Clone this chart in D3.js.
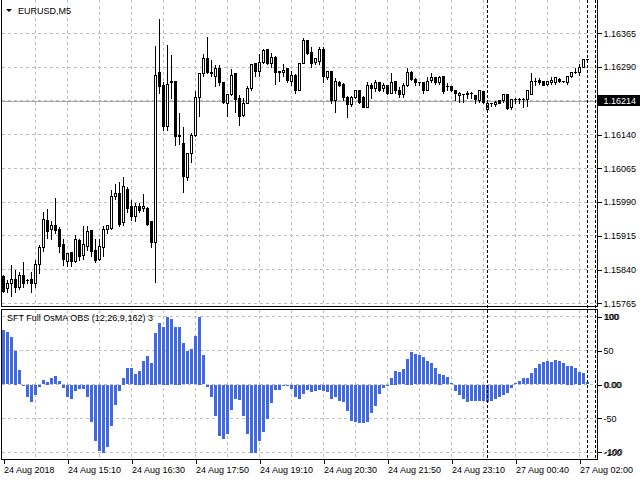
<!DOCTYPE html>
<html>
<head>
<meta charset="utf-8">
<script src="https://cdn.jsdelivr.net/npm/d3@7"></script>
<style>
body{margin:0;background:#fff;}
svg{display:block;}
text{font-family:"Liberation Sans",Arial,sans-serif;font-size:9px;fill:#000;}
</style>
</head>
<body>
<svg id="chart" width="640" height="480"></svg>
<script>
// EURUSD M5 bars
var open = [
1.15824,1.15797,1.15808,1.15817,1.15801,1.15826,1.15815,1.15817,1.15810,1.15852,
1.15890,1.15948,1.15928,1.15939,1.15930,1.15895,1.15859,1.15877,1.15859,1.15904,
1.15872,1.15892,1.15926,1.15883,1.15863,1.15890,1.15928,1.15932,1.16003,1.16010,
1.15944,1.16019,1.15979,1.15959,1.15979,1.15975,1.15975,1.15946,1.15901,1.16277,
1.16250,1.16159,1.16255,1.16259,1.16139,1.16121,1.16044,1.16099,1.16139,1.16223,
1.16275,1.16308,1.16279,1.16268,1.16286,1.16255,1.16210,1.16228,1.16275,1.16221,
1.16183,1.16210,1.16243,1.16297,1.16281,1.16301,1.16328,1.16297,1.16312,1.16281,
1.16277,1.16286,1.16259,1.16272,1.16239,1.16299,1.16350,1.16323,1.16301,1.16303,
1.16330,1.16266,1.16281,1.16215,1.16255,1.16252,1.16223,1.16206,1.16223,1.16237,
1.16223,1.16201,1.16248,1.16243,1.16255,1.16243,1.16250,1.16232,1.16259,1.16239,
1.16228,1.16248,1.16279,1.16263,1.16255,1.16255,1.16239,1.16261,1.16266,1.16255,
1.16268,1.16246,1.16246,1.16239,1.16226,1.16228,1.16228,1.16232,1.16226,1.16215,
1.16235,1.16195,1.16208,1.16206,1.16215,1.16215,1.16228,1.16201,1.16217,1.16219,
1.16217,1.16217,1.16230,1.16259,1.16261,1.16257,1.16252,1.16255,1.16255,1.16263,
1.16257,1.16255,1.16268,1.16279,1.16277,1.16290,1.16306];
var high = [
1.15828,1.15817,1.15852,1.15841,1.15835,1.15857,1.15821,1.15835,1.15863,1.15895,
1.15970,1.15975,1.15950,1.15999,1.15935,1.15910,1.15879,1.15879,1.15917,1.15910,
1.15939,1.15939,1.15928,1.15908,1.15910,1.15937,1.15939,1.16017,1.16032,1.16035,
1.16046,1.16024,1.15995,1.15990,1.15990,1.16010,1.15979,1.15948,1.16339,1.16397,
1.16257,1.16341,1.16317,1.16261,1.16190,1.16159,1.16101,1.16144,1.16239,1.16279,
1.16321,1.16357,1.16306,1.16295,1.16295,1.16257,1.16228,1.16286,1.16279,1.16228,
1.16223,1.16250,1.16299,1.16301,1.16321,1.16332,1.16332,1.16323,1.16315,1.16283,
1.16299,1.16288,1.16283,1.16275,1.16301,1.16355,1.16352,1.16335,1.16310,1.16335,
1.16335,1.16283,1.16283,1.16266,1.16261,1.16255,1.16226,1.16226,1.16239,1.16239,
1.16226,1.16257,1.16255,1.16263,1.16257,1.16255,1.16252,1.16279,1.16261,1.16246,
1.16255,1.16288,1.16283,1.16266,1.16259,1.16257,1.16268,1.16277,1.16268,1.16272,
1.16270,1.16255,1.16248,1.16241,1.16235,1.16232,1.16237,1.16235,1.16228,1.16239,
1.16237,1.16212,1.16212,1.16215,1.16217,1.16230,1.16230,1.16219,1.16223,1.16223,
1.16223,1.16241,1.16277,1.16266,1.16266,1.16259,1.16261,1.16268,1.16268,1.16266,
1.16261,1.16270,1.16281,1.16290,1.16299,1.16308,1.16308];
var low = [
1.15788,1.15790,1.15781,1.15788,1.15795,1.15801,1.15808,1.15788,1.15801,1.15832,
1.15881,1.15910,1.15906,1.15921,1.15879,1.15850,1.15846,1.15846,1.15855,1.15861,
1.15863,1.15883,1.15868,1.15855,1.15861,1.15870,1.15921,1.15928,1.15995,1.15935,
1.15939,1.15966,1.15950,1.15946,1.15966,1.15970,1.15937,1.15890,1.15812,1.16232,
1.16150,1.16150,1.16221,1.16115,1.16117,1.16012,1.16039,1.16079,1.16135,1.16181,
1.16268,1.16275,1.16268,1.16246,1.16250,1.16210,1.16181,1.16226,1.16188,1.16161,
1.16181,1.16210,1.16239,1.16268,1.16268,1.16299,1.16295,1.16288,1.16252,1.16257,
1.16268,1.16255,1.16250,1.16232,1.16237,1.16297,1.16317,1.16290,1.16295,1.16295,
1.16255,1.16263,1.16210,1.16188,1.16246,1.16215,1.16177,1.16203,1.16221,1.16210,
1.16199,1.16201,1.16221,1.16235,1.16235,1.16235,1.16228,1.16232,1.16232,1.16223,
1.16223,1.16246,1.16261,1.16250,1.16250,1.16232,1.16237,1.16255,1.16252,1.16252,
1.16232,1.16239,1.16235,1.16215,1.16212,1.16212,1.16221,1.16221,1.16210,1.16212,
1.16210,1.16188,1.16203,1.16203,1.16208,1.16212,1.16195,1.16195,1.16208,1.16210,
1.16201,1.16203,1.16228,1.16250,1.16252,1.16248,1.16250,1.16252,1.16252,1.16255,
1.16255,1.16252,1.16266,1.16275,1.16272,1.16290,1.16303];
var close = [
1.15792,1.15808,1.15819,1.15801,1.15826,1.15810,1.15815,1.15810,1.15852,1.15890,
1.15952,1.15924,1.15939,1.15926,1.15892,1.15863,1.15875,1.15857,1.15906,1.15870,
1.15895,1.15924,1.15881,1.15861,1.15892,1.15928,1.15937,1.16003,1.16010,1.15941,
1.16024,1.15975,1.15959,1.15981,1.15972,1.15979,1.15941,1.15901,1.16272,1.16246,
1.16157,1.16252,1.16259,1.16135,1.16135,1.16046,1.16097,1.16139,1.16223,1.16275,
1.16310,1.16277,1.16275,1.16286,1.16255,1.16212,1.16228,1.16272,1.16219,1.16181,
1.16210,1.16243,1.16295,1.16281,1.16301,1.16326,1.16299,1.16312,1.16277,1.16279,
1.16283,1.16261,1.16272,1.16237,1.16299,1.16348,1.16321,1.16299,1.16308,1.16330,
1.16268,1.16281,1.16215,1.16259,1.16250,1.16223,1.16206,1.16223,1.16237,1.16212,
1.16201,1.16248,1.16243,1.16255,1.16239,1.16250,1.16232,1.16255,1.16237,1.16228,
1.16250,1.16279,1.16263,1.16255,1.16255,1.16237,1.16259,1.16266,1.16255,1.16266,
1.16235,1.16246,1.16237,1.16232,1.16232,1.16228,1.16232,1.16232,1.16217,1.16237,
1.16212,1.16208,1.16208,1.16212,1.16210,1.16228,1.16197,1.16217,1.16217,1.16219,
1.16217,1.16239,1.16259,1.16259,1.16255,1.16250,1.16259,1.16261,1.16266,1.16257,
1.16257,1.16268,1.16279,1.16279,1.16290,1.16306,1.16306];

// SFT Full OsMA OBS histogram
var osma = [
80,77,70,50,21,-1,-18,-25,-15,-3.5,
6,4,9,12,5,-5,-18,-21,-9,-6,
-6.5,-18,-55,-82,-98,-100,-92,-60,-30,-9,
10,24,24,16,20,35,42,32,76,90,
85,100,96,85,85,61,49,52,71,100,
43,-2.5,-18,-45,-75,-80,-72,-37,-20,-22,
-45,-72,-100,-100,-83,-69,-50,-26,-7,-7,
-1,-1,-6.5,-17,-21,-14,-8,-11,-9,-8,
-9,-11,-21,-18,-23,-25,-38,-53,-55,-56,
-56,-55,-42,-31,-14,-5,-1,10,20,18,
22.5,38,48,44.5,43,40,34,31,24,16,
14,11,2,-9,-15,-21,-25,-23,-24,-24,
-24,-25,-24,-21,-18,-15,-12,-5,2,5,
9,9,16.5,24,30,33,34,33,36,34,
31,28,28,24,18.5,16.5,3];

var timeIdx = [0,16,32,48,64,80,96,112,128,144];
var timeLabels = ["24 Aug 2018","24 Aug 15:10","24 Aug 16:30","24 Aug 17:50","24 Aug 19:10",
	"24 Aug 20:30","24 Aug 21:50","24 Aug 23:10","27 Aug 00:40","27 Aug 02:00"];
var priceTicks = [1.15765,1.15840,1.15915,1.15990,1.16065,1.16140,1.16215,1.16290,1.16365];
var bidPrice = 1.16214;
var oscTicks = [100,50,0,-50,-100];
var oscLabels = ["100","50","0.00","-50","-100"];
var vLines = [121,146,148];   // bar positions of the dashed vertical lines

var svg = d3.select("#chart");
var left = 1.5, right = 597.5,
	mainBottom = 306.5, indTop = 309.5, indBottom = 459.5;

var x = d3.scaleLinear().domain([0,146]).range([3.5,587.5]);
var y = d3.scaleLinear().domain([1.15765,1.16365]).range([303.3,33.3]);
var yo = d3.scaleLinear().domain([-100,100]).range([452.3,316.7]);

var snap = function(v){ return Math.round(v-0.5)+0.5; };

var defs = svg.append("defs");
defs.append("clipPath").attr("id","clipMain").append("rect")
	.attr("x",left).attr("y",0).attr("width",right-left).attr("height",mainBottom);
defs.append("clipPath").attr("id","clipInd").append("rect")
	.attr("x",left).attr("y",indTop).attr("width",right-left).attr("height",indBottom-indTop);

// grid
var gridX = d3.range(8,147,8);
var grid = svg.append("g").attr("shape-rendering","crispEdges")
	.attr("stroke","#bdbdbd").attr("stroke-dasharray","3,3");
grid.selectAll(".gxm").data(gridX).enter().append("line")
	.attr("x1",function(d){return snap(x(d));}).attr("x2",function(d){return snap(x(d));})
	.attr("y1",0).attr("y2",mainBottom);
grid.selectAll(".gxi").data(gridX).enter().append("line")
	.attr("x1",function(d){return snap(x(d));}).attr("x2",function(d){return snap(x(d));})
	.attr("y1",indTop).attr("y2",indBottom);
grid.selectAll(".gy").data(priceTicks).enter().append("line")
	.attr("x1",left).attr("x2",right)
	.attr("y1",function(d){return snap(y(d));}).attr("y2",function(d){return snap(y(d));});
grid.selectAll(".go").data(oscTicks).enter().append("line")
	.attr("x1",left).attr("x2",right)
	.attr("y1",function(d){return snap(yo(d));}).attr("y2",function(d){return snap(yo(d));});

// bid line
svg.append("line").attr("shape-rendering","crispEdges")
	.attr("x1",left).attr("x2",right)
	.attr("y1",snap(y(bidPrice))).attr("y2",snap(y(bidPrice)))
	.attr("stroke","#a8a8a8");

// candles
var idx = d3.range(open.length);
var cg = svg.append("g").attr("clip-path","url(#clipMain)").attr("shape-rendering","crispEdges");
cg.selectAll(".wick").data(idx).enter().append("line")
	.attr("x1",function(i){return x(i);}).attr("x2",function(i){return x(i);})
	.attr("y1",function(i){return snap(y(high[i]));})
	.attr("y2",function(i){return snap(y(low[i]));})
	.attr("stroke","#000");
cg.selectAll(".body").data(idx.filter(function(i){
		return Math.abs(snap(y(open[i]))-snap(y(close[i])))>=1;
	})).enter().append("rect")
	.attr("x",function(i){return x(i)-1;})
	.attr("y",function(i){return snap(y(Math.max(open[i],close[i])));})
	.attr("width",2)
	.attr("height",function(i){return snap(y(Math.min(open[i],close[i])))-snap(y(Math.max(open[i],close[i])));})
	.attr("fill",function(i){return close[i]>open[i]?"#fff":"#000";})
	.attr("stroke","#000");
cg.selectAll(".doji").data(idx.filter(function(i){
		return Math.abs(snap(y(open[i]))-snap(y(close[i])))<1;
	})).enter().append("line")
	.attr("x1",function(i){return x(i)-1.5;}).attr("x2",function(i){return x(i)+1.5;})
	.attr("y1",function(i){return snap(y(close[i]));}).attr("y2",function(i){return snap(y(close[i]));})
	.attr("stroke","#000");

// histogram
svg.append("g").attr("clip-path","url(#clipInd)").attr("shape-rendering","crispEdges")
	.selectAll("rect").data(osma).enter().append("rect")
	.attr("x",function(d,i){return x(i)-1.5;})
	.attr("width",3)
	.attr("y",function(d){return Math.round(Math.min(yo(d),yo(0)));})
	.attr("height",function(d){return Math.max(1,Math.round(Math.abs(yo(d)-yo(0))));})
	.attr("fill","#4169e1");

// dashed vertical lines
svg.append("g").attr("shape-rendering","crispEdges")
	.selectAll("line").data(vLines).enter().append("line")
	.attr("x1",function(d){return x(d);}).attr("x2",function(d){return x(d);})
	.attr("y1",0).attr("y2",indBottom)
	.attr("stroke","#000").attr("stroke-dasharray","3,2");

// pane frames
var frame = svg.append("g").attr("shape-rendering","crispEdges").attr("stroke","#000").attr("fill","none");
frame.append("path").attr("d","M"+left+",0V"+mainBottom+"H"+right+"V0");
frame.append("rect").attr("x",left).attr("y",indTop).attr("width",right-left).attr("height",indBottom-indTop);

// price axis
var pa = svg.append("g").attr("transform","translate("+right+",0)")
	.call(d3.axisRight(y).tickValues(priceTicks).tickSize(4).tickPadding(2).tickFormat(d3.format(".5f")));
pa.select(".domain").remove();
pa.selectAll("line").attr("shape-rendering","crispEdges");
pa.selectAll("text").style("font-family","'Liberation Sans',Arial,sans-serif").style("font-size","9px")
	.attr("display",function(d){return Math.abs(d-bidPrice)<0.00005?"none":null;});

svg.append("rect").attr("x",598).attr("y",Math.round(y(bidPrice))-6).attr("width",42).attr("height",11).attr("fill","#000");
svg.append("text").attr("x",603.5).attr("y",y(bidPrice)).attr("dy","0.35em")
	.style("fill","#fff").text(d3.format(".5f")(bidPrice));

// oscillator axis
var oa = svg.append("g").attr("transform","translate("+right+",0)")
	.call(d3.axisRight(yo).tickValues(oscTicks).tickSize(4).tickPadding(2)
		.tickFormat(function(d,i){return oscLabels[i];}));
oa.select(".domain").remove();
oa.selectAll("line").attr("shape-rendering","crispEdges");
oa.selectAll("text").style("font-family","'Liberation Sans',Arial,sans-serif").style("font-size","9px");
// levels drawn twice by the terminal, gives the heavy look
svg.selectAll(".dup").data([100,0,-100]).enter().append("text")
	.attr("x",right+7).attr("y",function(d){return yo(d);}).attr("dy","0.35em")
	.text(function(d){return oscLabels[oscTicks.indexOf(d)];});

// time axis
var ta = svg.append("g").attr("transform","translate(0,"+indBottom+")")
	.call(d3.axisBottom(x).tickValues(timeIdx).tickSize(4).tickPadding(3)
		.tickFormat(function(d,i){return timeLabels[i];}));
ta.select(".domain").remove();
ta.selectAll("line").attr("shape-rendering","crispEdges");
ta.selectAll("text").attr("text-anchor","start").attr("x",0)
	.style("font-family","'Liberation Sans',Arial,sans-serif").style("font-size","9px");

// titles
svg.append("path").attr("d","M6,9L12,9L9,12Z").attr("fill","#000");
svg.append("text").attr("x",18).attr("y",14).text("EURUSD,M5");
svg.append("text").attr("x",7).attr("y",321).text("SFT Full OsMA OBS (12,26,9,162) 3");
</script>
</body>
</html>
